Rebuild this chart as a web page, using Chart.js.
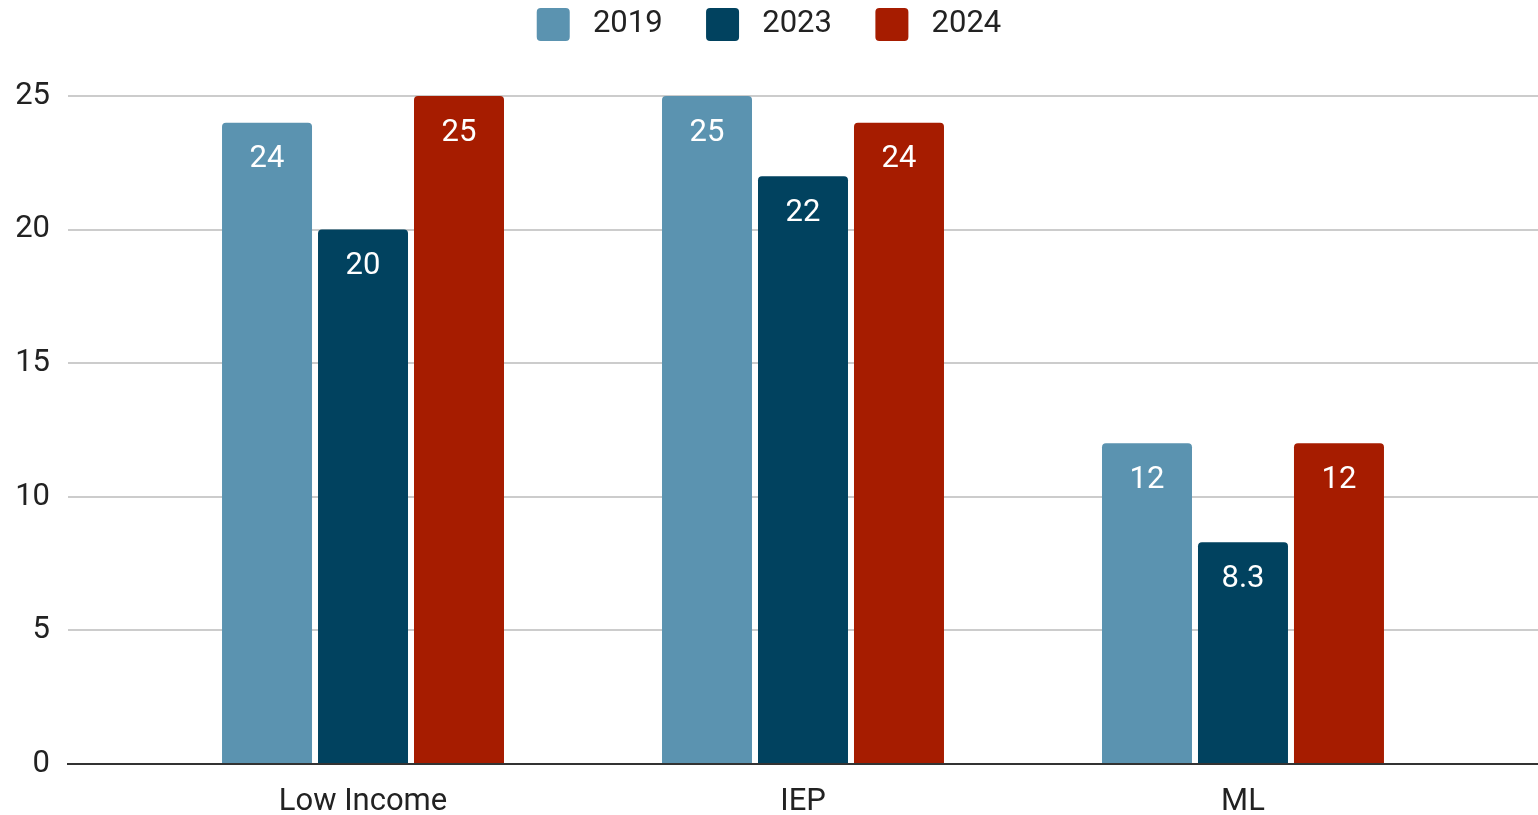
<!DOCTYPE html>
<html>
<head>
<meta charset="utf-8">
<title>Low Income / IEP / ML</title>
<script src="https://cdn.jsdelivr.net/npm/chart.js@4.4.1/dist/chart.umd.min.js"></script>
<style>
  html, body { margin: 0; padding: 0; background: #fff; }
  #wrap { width: 1538px; height: 815px; }
</style>
</head>
<body>
<div id="wrap"><canvas id="chart"></canvas></div>
<script>
const categories = ['Low Income', 'IEP', 'ML'];
const seriesNames = ['2019', '2023', '2024'];
const values2019 = [24, 25, 12];
const values2023 = [20, 22, 8.3];
const values2024 = [25, 24, 12];
const seriesColors = ['#5b93b0', '#01425f', '#a61c00'];
const yTicks = [0, 5, 10, 15, 20, 25];

const FONT = 'Roboto, "Liberation Sans", Arial, sans-serif';
const TEXT = '#222222';

// value printed inside the top of each bar
const barValueLabels = {
  id: 'barValueLabels',
  afterDatasetsDraw(chart) {
    const ctx = chart.ctx;
    ctx.save();
    ctx.fillStyle = '#ffffff';
    ctx.font = `31px ${FONT}`;
    ctx.textAlign = 'center';
    ctx.textBaseline = 'middle';
    chart.data.datasets.forEach((ds, i) => {
      chart.getDatasetMeta(i).data.forEach((bar, j) => {
        ctx.fillText(String(ds.data[j].y), bar.x, bar.y + 37);
      });
    });
    ctx.restore();
  }
};

// leave extra space between the legend row and the plot
const legendGap = {
  id: 'legendGap',
  beforeLayout(chart) {
    const lg = chart.legend;
    if (!lg || lg._gapWrapped) return;
    const fit = lg.fit;
    lg.fit = function () {
      fit.call(this);
      this.height += 45;
    };
    lg._gapWrapped = true;
  }
};

const seriesValues = [values2019, values2023, values2024];

new Chart(document.getElementById('chart'), {
  type: 'bar',
  data: {
    datasets: seriesNames.map((name, i) => ({
      label: name,
      data: seriesValues[i].map((v, j) => ({ x: j, y: v })),
      backgroundColor: seriesColors[i],
      borderWidth: 0,
      borderRadius: { topLeft: 4, topRight: 4 },
      borderSkipped: 'start',
      categoryPercentage: 0.6545,
      barPercentage: 0.9375,
    })),
  },
  options: {
    responsive: true,
    maintainAspectRatio: false,
    animation: false,
    layout: { padding: { top: 3, right: 0, bottom: 0, left: 0 } },
    plugins: {
      legend: {
        position: 'top',
        labels: {
          boxWidth: 33,
          boxHeight: 33,
          useBorderRadius: true,
          borderRadius: 4,
          padding: 5,
          color: TEXT,
          font: { family: FONT, size: 31 },
          generateLabels(chart) {
            const items = Chart.defaults.plugins.legend.labels.generateLabels(chart);
            items.forEach((it, i) => {
              it.text = ' ' + it.text + (i < items.length - 1 ? '     ' : '');
            });
            return items;
          },
        },
      },
      tooltip: { enabled: false },
    },
    scales: {
      x: {
        type: 'linear',
        min: -0.6705,
        max: 2.6705,
        offset: false,
        afterFit: (scale) => { scale.height = 51; },
        afterBuildTicks: (scale) => { scale.ticks = categories.map((_, i) => ({ value: i })); },
        ticks: {
          callback: (v) => categories[v],
          color: TEXT,
          padding: 23,
          autoSkip: false,
          maxRotation: 0,
          font: { family: FONT, size: 31, lineHeight: 1 },
        },
        grid: { display: false, drawTicks: false },
        border: { display: true, color: '#333333', width: 2 },
      },
      y: {
        min: 0,
        max: 25,
        afterFit: (scale) => { scale.width = 68; },
        afterBuildTicks: (scale) => { scale.ticks = yTicks.map(v => ({ value: v })); },
        ticks: {
          color: TEXT,
          padding: 18,
          font: { family: FONT, size: 31 },
        },
        grid: { color: '#cccccc', lineWidth: 2, drawTicks: false },
        border: { display: false },
      },
    },
  },
  plugins: [barValueLabels, legendGap],
});
</script>
</body>
</html>
